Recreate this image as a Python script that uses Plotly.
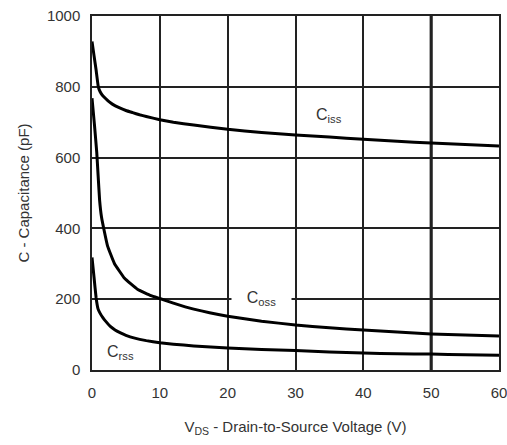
import plotly.graph_objects as go

# Data
ciss_v = [0, 0.3, 0.6, 0.93, 1.2, 1.5, 2, 2.5, 3, 4, 5, 6, 7, 8, 10, 12, 15, 20, 25, 30, 35, 40, 45, 50, 55, 60]
ciss_c = [928, 888, 848, 800, 786, 777, 767, 758, 751, 741, 733, 727, 721, 716, 707, 700, 692, 680, 671, 664, 658, 652, 646, 641, 637, 633]

coss_v = [0, 0.35, 0.7, 0.9, 1.12, 1.4, 1.76, 2.3, 3.3, 4.8, 6.7, 8.7, 10, 12, 15, 20, 25, 30, 35, 40, 45, 50, 55, 60]
coss_c = [768, 695, 615, 550, 480, 432, 397, 350, 301, 259, 228, 210, 202, 189, 172, 152, 138, 127, 119, 113, 107, 102, 99, 96]

crss_v = [0, 0.3, 0.6, 0.9, 1.2, 1.6, 2.0, 2.7, 3.4, 4.2, 5, 6.3, 8, 10, 12, 15, 20, 25, 30, 35, 40, 45, 50, 55, 60]
crss_c = [318, 262, 205, 172, 160, 148, 138, 123, 113, 105, 98, 90, 83, 77, 73, 68, 62, 58, 55, 51, 48, 46, 45, 43, 42]

x_ticks = [0, 10, 20, 30, 40, 50, 60]
y_ticks = [0, 200, 400, 600, 800, 1000]
highlight_v = 50

labels = ["C<sub>iss</sub>", "C<sub>oss</sub>", "C<sub>rss</sub>"]
label_x = [35.0, 25.0, 4.2]
label_y = [720, 203, 50]

FONT = "Liberation Sans, Arial, sans-serif"
TXT = "#333333"
GRID = "#222222"

fig = go.Figure()
for xs, ys in [(ciss_v, ciss_c), (coss_v, coss_c), (crss_v, crss_c)]:
    fig.add_trace(go.Scatter(x=xs, y=ys, mode="lines",
                             line=dict(color="black", width=3, shape="spline", smoothing=0.3),
                             showlegend=False, hoverinfo="skip"))

for i, (t, lx, ly) in enumerate(zip(labels, label_x, label_y)):
    kw = {}
    if i == 1:
        kw = dict(bgcolor="white", width=57)
    fig.add_annotation(x=lx, y=ly, text=t, showarrow=False,
                       font=dict(family=FONT, size=16, color=TXT), **kw)

fig.add_shape(type="line", x0=highlight_v, x1=highlight_v, y0=0, y1=1, yref="paper",
              line=dict(color="black", width=3), layer="below")

axis_common = dict(showline=True, linecolor=GRID, linewidth=1.5, mirror=True,
                   showgrid=True, gridcolor=GRID, gridwidth=1.5, zeroline=False,
                   ticks="", automargin=False, ticklabeloverflow="allow",
                   tickfont=dict(family=FONT, size=15, color=TXT))

fig.update_xaxes(range=[0, 60], tickvals=x_ticks, ticklabelstandoff=8,
                 title=dict(text="V<sub>DS</sub> - Drain-to-Source Voltage (V)",
                            font=dict(family=FONT, size=15, color=TXT), standoff=22),
                 **axis_common)
fig.update_yaxes(range=[0, 1000], tickvals=y_ticks, ticklabelstandoff=7,
                 title=dict(text="C - Capacitance (pF)",
                            font=dict(family=FONT, size=15, color=TXT), standoff=14),
                 **axis_common)

fig.update_layout(width=507, height=445, margin=dict(l=92, r=8, t=16, b=75),
                  plot_bgcolor="white", paper_bgcolor="white")

fig.write_html("out.html", config={"displayModeBar": False})

# remove the browser's default page margin so the figure sits at (0, 0)
with open("out.html", "r", encoding="utf-8") as f:
    html = f.read()
html = html.replace("<head>", "<head><style>html,body{margin:0;padding:0;overflow:hidden;}</style>", 1)
with open("out.html", "w", encoding="utf-8") as f:
    f.write(html)
